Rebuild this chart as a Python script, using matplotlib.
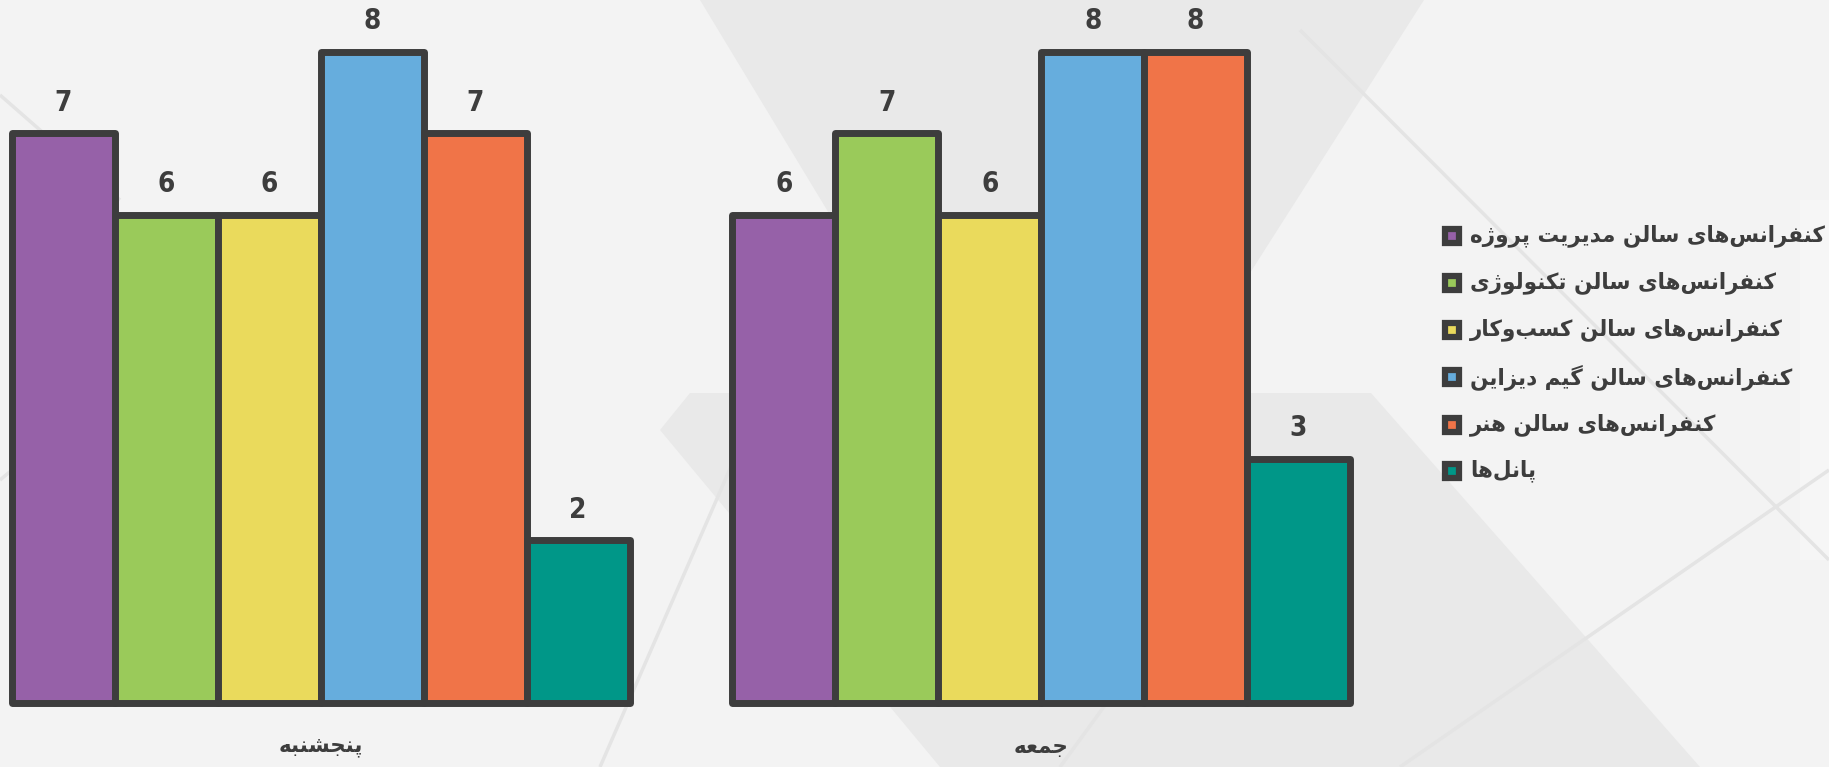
import matplotlib
matplotlib.use("Agg")
import matplotlib.pyplot as plt
from matplotlib.patches import Polygon

# data
days = ["پنجشنبه", "جمعه"]
series = [
    "کنفرانس‌های سالن مدیریت پروژه",
    "کنفرانس‌های سالن تکنولوژی",
    "کنفرانس‌های سالن کسب‌وکار",
    "کنفرانس‌های سالن گیم دیزاین",
    "کنفرانس‌های سالن هنر",
    "پانل‌ها",
]
thursday = [7, 6, 6, 8, 7, 2]
friday = [6, 7, 6, 8, 8, 3]
colors = ["#9661a8", "#9aca5a", "#eada5c", "#66addd", "#f07448", "#009788"]

edge = "#3d3d3d"
bg = "#f3f3f3"

# simple persian shaping (matplotlib has no arabic shaper)
# letter: (isolated, final, initial, medial) ; 2-form letters only join to the right
FORMS = {
    "ا": (0xFE8D, 0xFE8E), "د": (0xFEA9, 0xFEAA), "ر": (0xFEAD, 0xFEAE),
    "ز": (0xFEAF, 0xFEB0), "ژ": (0xFB8A, 0xFB8B), "و": (0xFEED, 0xFEEE),
    "ب": (0xFE8F, 0xFE90, 0xFE91, 0xFE92), "پ": (0xFB56, 0xFB57, 0xFB58, 0xFB59),
    "ت": (0xFE95, 0xFE96, 0xFE97, 0xFE98), "ج": (0xFE9D, 0xFE9E, 0xFE9F, 0xFEA0),
    "س": (0xFEB1, 0xFEB2, 0xFEB3, 0xFEB4), "ش": (0xFEB5, 0xFEB6, 0xFEB7, 0xFEB8),
    "ع": (0xFEC9, 0xFECA, 0xFECB, 0xFECC), "ف": (0xFED1, 0xFED2, 0xFED3, 0xFED4),
    "ک": (0xFB8E, 0xFB8F, 0xFB90, 0xFB91), "گ": (0xFB92, 0xFB93, 0xFB94, 0xFB95),
    "ل": (0xFEDD, 0xFEDE, 0xFEDF, 0xFEE0), "م": (0xFEE1, 0xFEE2, 0xFEE3, 0xFEE4),
    "ن": (0xFEE5, 0xFEE6, 0xFEE7, 0xFEE8), "ه": (0xFEE9, 0xFEEA, 0xFEEB, 0xFEEC),
    "ی": (0xFBFC, 0xFBFD, 0xFBFE, 0xFBFF),
}


def shape(text):
    out = []
    n = len(text)
    for i, ch in enumerate(text):
        if ch not in FORMS:
            if ch != "\u200c":
                out.append(ch)
            continue
        f = FORMS[ch]
        prev = text[i - 1] if i > 0 else ""
        nxt = text[i + 1] if i < n - 1 else ""
        join_prev = prev in FORMS and len(FORMS[prev]) == 4
        join_next = len(f) == 4 and nxt in FORMS
        if join_prev and join_next:
            c = f[3]
        elif join_prev:
            c = f[1]
        elif join_next:
            c = f[2]
        else:
            c = f[0]
        out.append(chr(c))
    return "".join(out)[::-1]


W, H = 1829, 767
fig = plt.figure(figsize=(W / 100, H / 100), dpi=100, facecolor=bg)

# background decoration (faint geometric shapes)
bgax = fig.add_axes([0, 0, 1, 1], zorder=-5)
bgax.set_xlim(0, W)
bgax.set_ylim(H, 0)
bgax.axis("off")
shade = "#e9e9e9"
bgax.add_patch(Polygon([(700, 0), (1424, 0), (1150, 430), (960, 430)], closed=True, color=shade, lw=0))
bgax.add_patch(Polygon([(690, 393), (1371, 393), (1700, 767), (940, 767), (660, 430)],
                       closed=True, color=shade, lw=0))
bgax.add_patch(Polygon([(1800, 200), (1829, 200), (1829, 560), (1800, 560)], closed=True,
                       color="#f6f6f6", lw=0))
for (x0, y0, x1, y1) in [(0, 95, 120, 200), (600, 767, 760, 400), (1300, 30, 1829, 560),
                         (1400, 767, 1829, 470), (1060, 767, 1240, 520), (0, 480, 60, 430)]:
    bgax.plot([x0, x1], [y0, y1], color="#e4e4e4", lw=2.5, solid_capstyle="butt")

# bars
ax = fig.add_axes([12 / W, (H - 703) / H, (1350 - 12) / W, (703 - 52) / H])
ax.set_xlim(0, 13)
ax.set_ylim(0, 8)
ax.axis("off")

for g, vals in enumerate([thursday, friday]):
    xs = [g * 7 + i + 0.5 for i in range(len(vals))]
    bars = ax.bar(xs, vals, width=1.0, color=colors, edgecolor=edge,
                  linewidth=5.0, zorder=2)
    for b in bars:
        b.set_joinstyle("round")
        b.set_clip_on(False)
    for x, v in zip(xs, vals):
        ax.annotate(str(v), (x, v), xytext=(0, 22), textcoords="offset points",
                    ha="center", va="center", fontsize=20, fontweight="bold",
                    fontstretch="condensed", color=edge, annotation_clip=False)
    ax.text(g * 7 + 3, -0.54, shape(days[g]), ha="center", va="center",
            fontsize=15.5, fontweight="bold", color=edge, clip_on=False)

# legend
legy = [236, 283, 330, 377, 425, 471]
for name, c, y in zip(series, colors, legy):
    bgax.plot(1452, y, marker="s", markersize=10, markerfacecolor=c,
              markeredgecolor=edge, markeredgewidth=4.5, zorder=3)
    bgax.text(1470, y, shape(name), ha="left", va="center", fontsize=15.5,
              fontweight="bold", color=edge)

fig.savefig("out.png", dpi=100, facecolor=bg)
